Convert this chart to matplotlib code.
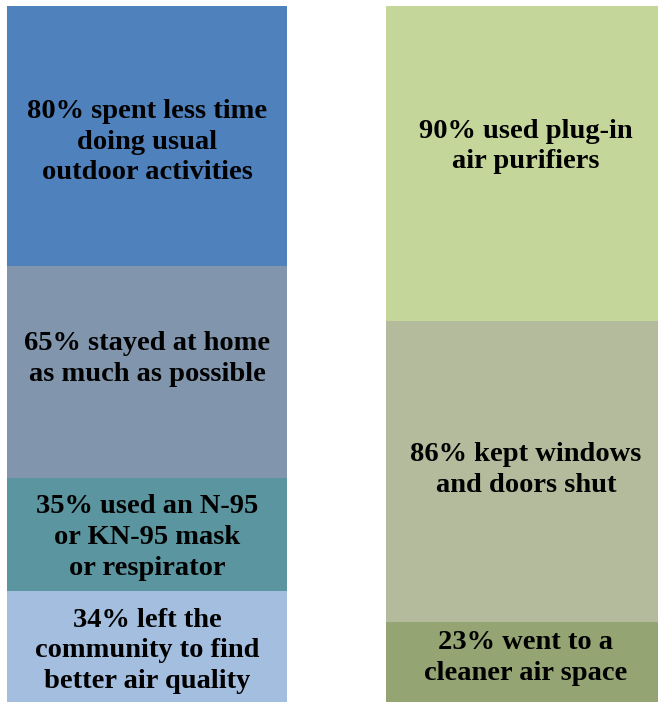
import matplotlib.pyplot as plt
import numpy as np

# Data
left_labels = [
    "80% spent less time\ndoing usual\noutdoor activities",
    "65% stayed at home\nas much as possible",
    "35% used an N-95\nor KN-95 mask\nor respirator",
    "34% left the\ncommunity to find\nbetter air quality",
]
left_values = [80, 65, 35, 34]
left_colors = ["#4F81BD", "#8196AD", "#5B95A0", "#A4BEDF"]

right_labels = [
    "90% used plug-in\nair purifiers",
    "86% kept windows\nand doors shut",
    "23% went to a\ncleaner air space",
]
right_values = [90, 86, 23]
right_colors = ["#C5D69B", "#B3BB9C", "#94A473"]

# small vertical nudges of the labels (pixels, positive = down)
left_nudge = [6, -13, 3, 4]
right_nudge = [-17, -1, -4]

PX = 100 / 696  # data units per pixel


def stack_column(ax, x, values, labels, colors, nudges, width):
    # normalise each column so it fills the full height
    vals = np.array(values, dtype=float)
    heights = vals / vals.sum() * 100
    top = 100.0
    for h, lab, col, nd in zip(heights, labels, colors, nudges):
        bottom = top - h
        ax.bar(x, h, bottom=bottom, width=width, color=col, edgecolor="none")
        ax.text(x, bottom + h / 2 - nd * PX, lab, ha="center", va="center",
                fontsize=20.5, fontweight="bold", family="Liberation Serif",
                linespacing=1.3, color="black")
        top = bottom


fig = plt.figure(figsize=(6.58, 7.02), dpi=100)
ax = fig.add_axes([0, 0, 1, 1])
w = 280 / 379
stack_column(ax, 0, left_values, left_labels, left_colors, left_nudge, w)
stack_column(ax, 1, right_values, right_labels, right_colors, right_nudge, w)
ax.set_xlim(-147 / 379, 511 / 379)
ax.set_ylim(0, 100 + 6 * PX)
ax.axis("off")
fig.savefig("out.png", dpi=100)
